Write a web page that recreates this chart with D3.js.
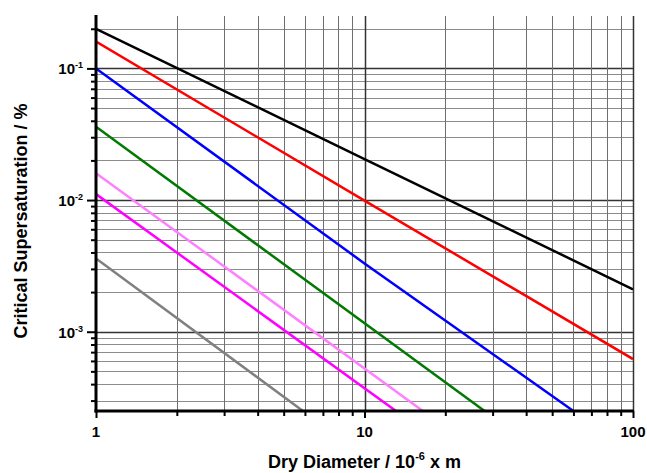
<!DOCTYPE html>
<html>
<head>
<meta charset="utf-8">
<script src="https://cdn.jsdelivr.net/npm/d3@7"></script>
<style>
  body { margin: 0; background: #fff; }
  text { font-family: Arial, "Liberation Sans", sans-serif; font-weight: bold; fill: #000; }
</style>
</head>
<body>
<script>
// Critical supersaturation vs dry diameter (log-log)
var blackLine   = [[1, 0.2],    [10, 0.0205], [100, 0.0021]];
var redLine     = [[1, 0.16],   [10, 0.0099], [100, 0.00062]];
var blueLine    = [[1, 0.1],    [10, 0.0033], [60, 0.00025]];
var greenLine   = [[1, 0.036],  [28, 0.00025]];
var pinkLine    = [[1, 0.016],  [16.5, 0.00025]];
var magentaLine = [[1, 0.0111], [13.1, 0.00025]];
var grayLine    = [[1, 0.0036], [5.9, 0.00025]];

var series = [
    { pts: blackLine,   color: "#000000" },
    { pts: redLine,     color: "#ff0000" },
    { pts: blueLine,    color: "#0000ff" },
    { pts: greenLine,   color: "#007a00" },
    { pts: pinkLine,    color: "#ff80ff" },
    { pts: magentaLine, color: "#ff00ff" },
    { pts: grayLine,    color: "#808080" }
];

var xDomain = [1, 100];
var yDomain = [0.00025, 0.25];
var xMajor = [1, 10, 100];
var yMajor = [0.001, 0.01, 0.1];
var yMajorExp = ["-3", "-2", "-1"];

(function() {
    var width = 647, height = 473;
    var mLeft = 96, mRight = 633, mTop = 16, mBottom = 411;

    var svg = d3.select("body").append("svg")
        .attr("width", width)
        .attr("height", height);

    var x = d3.scaleLog().domain(xDomain).range([mLeft, mRight]);
    var y = d3.scaleLog().domain(yDomain).range([mBottom, mTop]);

    // all 1..9 x 10^n positions inside the domain
    function logSteps(lo, hi) {
        var out = [];
        for (var e = Math.floor(Math.log10(lo)); e <= Math.ceil(Math.log10(hi)); e++) {
            for (var m = 1; m <= 9; m++) {
                var v = +(m * Math.pow(10, e)).toPrecision(6);
                if (v >= lo * 0.9999 && v <= hi * 1.0001) out.push(v);
            }
        }
        return out;
    }
    var xGrid = logSteps(1, 100);
    var yGrid = logSteps(0.00025, 0.25).filter(function(v) { return v > 0.00025; });

    function isMajor(v) {
        var l = Math.log10(v);
        return Math.abs(l - Math.round(l)) < 1e-6;
    }

    // grid
    var grid = svg.append("g").attr("class", "grid");
    grid.selectAll("line.hg")
        .data(yGrid)
        .enter().append("line")
        .attr("class", "hg")
        .attr("x1", mLeft).attr("x2", mRight)
        .attr("y1", function(d) { return Math.round(y(d)) + 0.5; })
        .attr("y2", function(d) { return Math.round(y(d)) + 0.5; })
        .attr("stroke", function(d) { return isMajor(d) ? "#333" : "#8c8c8c"; })
        .attr("stroke-width", function(d) { return isMajor(d) ? 1.5 : 1; });

    grid.selectAll("line.vg")
        .data(xGrid.filter(function(d) { return d > 1; }))
        .enter().append("line")
        .attr("class", "vg")
        .attr("y1", mTop).attr("y2", mBottom)
        .attr("x1", function(d) { return Math.round(x(d)) + 0.5; })
        .attr("x2", function(d) { return Math.round(x(d)) + 0.5; })
        .attr("stroke", function(d) { return isMajor(d) ? "#333" : "#6f6f6f"; })
        .attr("stroke-width", function(d) { return isMajor(d) ? 1.5 : 1; });

    // data lines
    svg.append("clipPath").attr("id", "plotclip")
        .append("rect")
        .attr("x", mLeft).attr("y", mTop)
        .attr("width", mRight - mLeft).attr("height", mBottom - mTop);

    var line = d3.line()
        .x(function(d) { return x(d[0]); })
        .y(function(d) { return y(d[1]); });

    svg.append("g")
        .attr("clip-path", "url(#plotclip)")
        .selectAll("path")
        .data(series)
        .enter().append("path")
        .attr("d", function(d) { return line(d.pts); })
        .attr("fill", "none")
        .attr("stroke", function(d) { return d.color; })
        .attr("stroke-width", 2.5);

    // y axis
    var yAxis = d3.axisLeft(y)
        .tickValues(yGrid)
        .tickSizeInner(5)
        .tickSizeOuter(0)
        .tickFormat("");
    var yg = svg.append("g")
        .attr("transform", "translate(" + mLeft + ",0)")
        .call(yAxis);
    yg.select(".domain").attr("stroke", "#000").attr("stroke-width", 3)
        .attr("d", "M0," + (mBottom + 1.5) + "V" + (mTop - 1));
    yg.selectAll(".tick line")
        .attr("stroke", "#000")
        .attr("stroke-width", 2)
        .attr("x2", function(d) { return isMajor(d) ? -9 : -5; });

    // x axis
    var xAxis = d3.axisBottom(x)
        .tickValues(xGrid)
        .tickSizeInner(5)
        .tickSizeOuter(0)
        .tickFormat("");
    var xg = svg.append("g")
        .attr("transform", "translate(0," + mBottom + ")")
        .call(xAxis);
    xg.select(".domain").attr("stroke", "#000").attr("stroke-width", 3)
        .attr("d", "M" + (mLeft - 1.5) + ",0H" + (mRight + 1));
    xg.selectAll(".tick line")
        .attr("stroke", "#000")
        .attr("stroke-width", 2)
        .attr("y2", function(d) { return isMajor(d) ? 7 : 5; });

    // tick labels
    svg.selectAll("text.xl")
        .data(xMajor)
        .enter().append("text")
        .attr("class", "xl")
        .attr("x", function(d) { return x(d); })
        .attr("y", 437)
        .attr("text-anchor", "middle")
        .style("font-size", "15px")
        .text(function(d) { return d; });

    var yl = svg.selectAll("text.yl")
        .data(yMajor)
        .enter().append("text")
        .attr("class", "yl")
        .attr("x", 83)
        .attr("y", function(d) { return y(d) + 6; })
        .attr("text-anchor", "end")
        .style("font-size", "15px");
    yl.append("tspan").text("10");
    yl.append("tspan")
        .attr("dy", -6)
        .style("font-size", "9px")
        .text(function(d, i) { return yMajorExp[i]; });

    // axis titles
    var xt = svg.append("text")
        .attr("x", (mLeft + mRight) / 2)
        .attr("y", 468)
        .attr("text-anchor", "middle")
        .style("font-size", "18px");
    xt.append("tspan").text("Dry Diameter / 10");
    xt.append("tspan").attr("dy", -8).style("font-size", "11px").text("-6");
    xt.append("tspan").attr("dy", 8).text(" x m");

    svg.append("text")
        .attr("transform", "translate(27,221) rotate(-90)")
        .attr("text-anchor", "middle")
        .style("font-size", "18px")
        .text("Critical Supersaturation / %");
})();
</script>
</body>
</html>
